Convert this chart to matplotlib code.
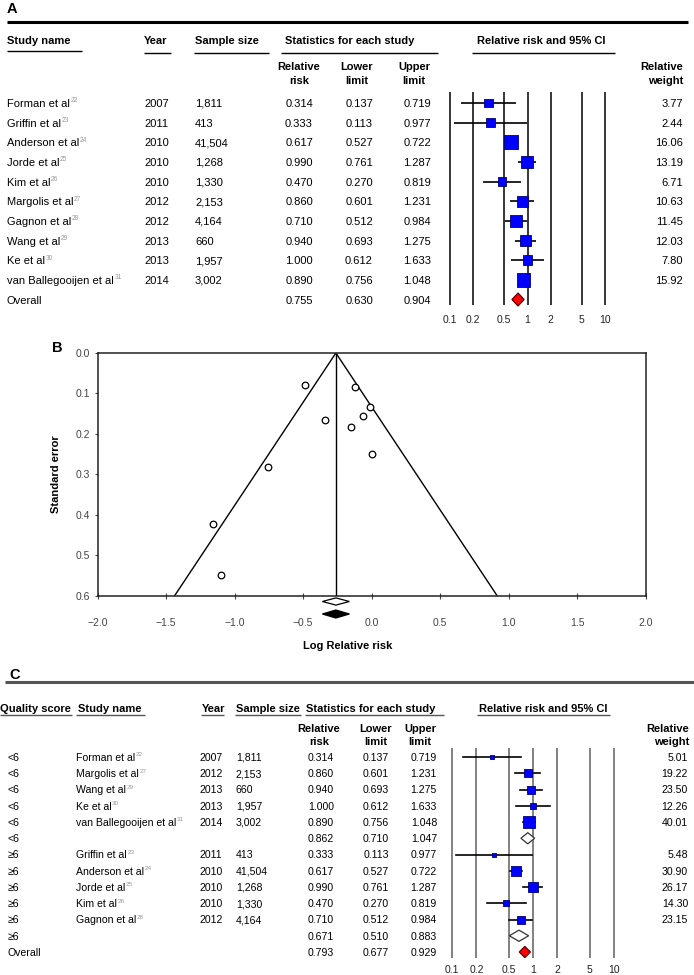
import matplotlib
matplotlib.use('Agg')
import matplotlib.pyplot as plt
from matplotlib.patches import Polygon
import numpy as np

plt.rcParams['font.family'] = ['Liberation Sans', 'DejaVu Sans']
plt.rcParams['mathtext.fontset'] = 'custom'
plt.rcParams['mathtext.rm'] = 'Liberation Sans'
plt.rcParams['mathtext.it'] = 'Liberation Sans:italic'
plt.rcParams['mathtext.bf'] = 'Liberation Sans:bold'
NARROW = ['Liberation Sans Narrow', 'Liberation Sans', 'DejaVu Sans']

# ---------------- data: panel A ----------------
studies_A = ['Forman et al', 'Griffin et al', 'Anderson et al', 'Jorde et al', 'Kim et al',
             'Margolis et al', 'Gagnon et al', 'Wang et al', 'Ke et al', 'van Ballegooijen et al']
refs_A = ['22', '23', '24', '25', '26', '27', '28', '29', '30', '31']
years_A = ['2007', '2011', '2010', '2010', '2010', '2012', '2012', '2013', '2013', '2014']
sizes_A = ['1,811', '413', '41,504', '1,268', '1,330', '2,153', '4,164', '660', '1,957', '3,002']
rr_A = [0.314, 0.333, 0.617, 0.990, 0.470, 0.860, 0.710, 0.940, 1.000, 0.890]
lo_A = [0.137, 0.113, 0.527, 0.761, 0.270, 0.601, 0.512, 0.693, 0.612, 0.756]
hi_A = [0.719, 0.977, 0.722, 1.287, 0.819, 1.231, 0.984, 1.275, 1.633, 1.048]
wt_A = [3.77, 2.44, 16.06, 13.19, 6.71, 10.63, 11.45, 12.03, 7.80, 15.92]
overall_A = [0.755, 0.630, 0.904]
forest_ticks = [0.1, 0.2, 0.5, 1, 2, 5, 10]
forest_ticklabels = ['0.1', '0.2', '0.5', '1', '2', '5', '10']

# ---------------- data: panel B ----------------
log_rr_B = [-1.158, -1.100, -0.483, -0.010, -0.755, -0.151, -0.342, -0.062, 0.000, -0.117]
se_B = [0.423, 0.550, 0.080, 0.134, 0.283, 0.183, 0.167, 0.156, 0.250, 0.083]
pooled_B = -0.26
egger_p = '0.53'
xticks_B = [-2.0, -1.5, -1.0, -0.5, 0.0, 0.5, 1.0, 1.5, 2.0]
yticks_B = [0.0, 0.1, 0.2, 0.3, 0.4, 0.5, 0.6]

# ---------------- data: panel C ----------------
quality_C = ['<6'] * 6 + ['\u22656'] * 6 + ['Overall']
studies_C = ['Forman et al', 'Margolis et al', 'Wang et al', 'Ke et al', 'van Ballegooijen et al', '',
             'Griffin et al', 'Anderson et al', 'Jorde et al', 'Kim et al', 'Gagnon et al', '', '']
refs_C = ['22', '27', '29', '30', '31', '', '23', '24', '25', '26', '28', '', '']
years_C = ['2007', '2012', '2013', '2013', '2014', '', '2011', '2010', '2010', '2010', '2012', '', '']
sizes_C = ['1,811', '2,153', '660', '1,957', '3,002', '', '413', '41,504', '1,268', '1,330', '4,164', '', '']
rr_C = [0.314, 0.860, 0.940, 1.000, 0.890, 0.862, 0.333, 0.617, 0.990, 0.470, 0.710, 0.671, 0.793]
lo_C = [0.137, 0.601, 0.693, 0.612, 0.756, 0.710, 0.113, 0.527, 0.761, 0.270, 0.512, 0.510, 0.677]
hi_C = [0.719, 1.231, 1.275, 1.633, 1.048, 1.047, 0.977, 0.722, 1.287, 0.819, 0.984, 0.883, 0.929]
wt_C = [5.01, 19.22, 23.50, 12.26, 40.01, None, 5.48, 30.90, 26.17, 14.30, 23.15, None, None]
kind_C = ['study'] * 5 + ['sub'] + ['study'] * 5 + ['sub', 'overall']

# ---------------- figure & helpers ----------------
W, H = 694, 975
fig = plt.figure(figsize=(W / 100, H / 100), dpi=100)
canvas = fig.add_axes([0, 0, 1, 1])
canvas.set_xlim(0, W)
canvas.set_ylim(H, 0)
canvas.axis('off')
renderer = fig.canvas.get_renderer()

BLUE = '#0000ff'
BLUE_EDGE = '#00007a'
RED = '#ff0000'
PX_PER_PT = 100 / 72.0


def px_axes(x0, y0, x1, y1):
    return fig.add_axes([x0 / W, 1 - y1 / H, (x1 - x0) / W, (y1 - y0) / H])


def txt(x, y, s, ha='left', fs=8, bold=False, color='black', **kw):
    # y is the visual centre of capitals; place baseline below it
    yb = y + 0.36 * fs * PX_PER_PT
    return canvas.text(x, yb, s, ha=ha, va='baseline', fontsize=fs,
                       fontweight='bold' if bold else 'normal', color=color, **kw)


def hline(x0, x1, y, lw=1.0, color='black'):
    canvas.plot([x0, x1], [y, y], color=color, lw=lw, solid_capstyle='butt')


def name_with_ref(x, y, name, ref, fs):
    t = txt(x, y, name, fs=fs)
    if ref:
        bb = t.get_window_extent(renderer)
        xe = canvas.transData.inverted().transform((bb.x1, bb.y0))[0]
        txt(xe + 0.6, y - 3, ref, fs=fs * 0.6, color='#9a9a9a')


def forest_axes(x01, x10, ytop, ybot):
    ppd = (x10 - x01) / 2.0
    pad = 10
    ax = px_axes(x01 - pad, ytop, x10 + pad, ybot)
    ax.set_xscale('log')
    ax.set_xlim(10 ** (-1 - pad / ppd), 10 ** (1 + pad / ppd))
    ax.set_ylim(ybot, ytop)
    ax.axis('off')
    return ax, ppd


def diamond(ax, est, lo, hi, y, h, fc, ec, lw=0.9):
    ax.add_patch(Polygon([(lo, y), (est, y - h), (hi, y), (est, y + h)], closed=True,
                         facecolor=fc, edgecolor=ec, lw=lw, zorder=4))


def forest_ticklabels_at(ax, y, fs=7.5):
    for t, l in zip(forest_ticks, forest_ticklabels):
        ax.text(t, y + 0.36 * fs * PX_PER_PT, l, ha='center', va='baseline', fontsize=fs,
                family=NARROW, color='#222222')


# ================= PANEL A =================
txt(7, 8, 'A', fs=10.5, bold=True)
hline(7, 688, 22, lw=2.2)

hy = 40
txt(7, hy, 'Study name', bold=True)
txt(144, hy, 'Year', bold=True)
txt(195, hy, 'Sample size', bold=True)
txt(285, hy, 'Statistics for each study', bold=True)
txt(477, hy, 'Relative risk and 95% CI', bold=True)
hline(7, 82, 51)
hline(144, 171, 53)
hline(194, 269, 53)
hline(281, 438, 53)
hline(472, 615, 53)

for lab, xc, ha in [(('Relative', 'risk'), 299, 'center'), (('Lower', 'limit'), 357, 'center'),
                    (('Upper', 'limit'), 414, 'center'), (('Relative', 'weight'), 683, 'right')]:
    txt(xc, 66, lab[0], ha=ha, bold=True)
    txt(xc, 80, lab[1], ha=ha, bold=True)

row0_A, dy_A = 103, 19.65
ys_A = [row0_A + i * dy_A for i in range(len(studies_A))]
y_over_A = row0_A + len(studies_A) * dy_A

for i, y in enumerate(ys_A):
    name_with_ref(7, y, studies_A[i], refs_A[i], 8)
    txt(144, y, years_A[i])
    txt(195, y, sizes_A[i])
    txt(313, y, '%.3f' % rr_A[i], ha='right')
    txt(373, y, '%.3f' % lo_A[i], ha='right')
    txt(431, y, '%.3f' % hi_A[i], ha='right')
    txt(683, y, '%.2f' % wt_A[i], ha='right')
txt(7, y_over_A, 'Overall')
txt(313, y_over_A, '%.3f' % overall_A[0], ha='right')
txt(373, y_over_A, '%.3f' % overall_A[1], ha='right')
txt(431, y_over_A, '%.3f' % overall_A[2], ha='right')

axA, ppdA = forest_axes(450, 605, 85, 330)
axA.vlines(forest_ticks, 92, 305, color='black', lw=1.1)
axA.hlines(ys_A, lo_A, hi_A, color='black', lw=1.2, zorder=2)
sideA = [max(8.8, 3.4 * np.sqrt(w)) for w in wt_A]
axA.scatter(rr_A, ys_A, marker='s', s=[(s * 0.72) ** 2 for s in sideA],
            facecolor=BLUE, edgecolor=BLUE_EDGE, lw=0.6, zorder=3)
diamond(axA, overall_A[0], overall_A[1], overall_A[2], y_over_A, 6.5, RED, '#5a0000')
forest_ticklabels_at(axA, 319)

# ================= PANEL B =================
txt(52, 347, 'B', fs=10.5, bold=True)
axB = px_axes(97.5, 353, 645.5, 595.5)
axB.set_xlim(-2, 2)
axB.set_ylim(0.6, 0)
for sp in axB.spines.values():
    sp.set_linewidth(1.1)
    sp.set_color('#222222')
axB.set_xticks(xticks_B)
axB.set_xticklabels([('%.1f' % v).replace('-', '\u2212') for v in xticks_B],
                    family=NARROW, fontsize=7.5, color='#444444')
axB.set_yticks(yticks_B)
axB.set_yticklabels(['%.1f' % v for v in yticks_B], family=NARROW, fontsize=7.5, color='#444444')
axB.tick_params(axis='x', direction='inout', length=4, width=0.8, pad=14.5, color='#444444')
axB.tick_params(axis='y', direction='out', length=2.5, width=0.8, pad=3, color='#444444')

se_max = 0.6
axB.plot([pooled_B - 1.96 * se_max, pooled_B, pooled_B + 1.96 * se_max], [se_max, 0, se_max],
         color='black', lw=1.0)
axB.plot([pooled_B, pooled_B], [0, se_max], color='black', lw=1.0)
axB.scatter(log_rr_B, se_B, s=(6.6 * 0.72) ** 2, facecolors='white', edgecolors='black',
            lw=0.9, zorder=3)
per_px = 0.6 / 242.5
hw = 13.5 / 137.0
for yc, hh, fc in [(601.5, 3.6, 'white'), (614.0, 4.0, 'black')]:
    yd = 0.6 + (yc - 595.5) * per_px
    p = Polygon([(pooled_B - hw, yd), (pooled_B, yd - hh * per_px), (pooled_B + hw, yd),
                 (pooled_B, yd + hh * per_px)], closed=True, facecolor=fc, edgecolor='black',
                lw=0.9, clip_on=False, zorder=5)
    axB.add_patch(p)

txt(484, 380, 'Eggers test $\\mathit{P}$-value =' + egger_p, fs=7.3, color='#222222')
canvas.text(56, 474, 'Standard error', fontsize=8, fontweight='bold', rotation=90,
            ha='center', va='center')
txt(347.5, 645, 'Log Relative risk', fs=8, bold=True, ha='center')

# ================= PANEL C =================
txt(9, 674, 'C', fs=10.5, bold=True)
hline(5, 694, 682, lw=2.2, color='#555555')

hyC = 708
GREY_UL = '#555555'
txt(0, hyC, 'Quality score', bold=True)
txt(78, hyC, 'Study name', bold=True)
txt(202, hyC, 'Year', bold=True)
txt(236, hyC, 'Sample size', bold=True)
txt(306, hyC, 'Statistics for each study', bold=True)
txt(479, hyC, 'Relative risk and 95% CI', bold=True)
hline(0, 72, 715, color=GREY_UL)
hline(76, 145, 715, color=GREY_UL)
hline(201, 224, 715, color=GREY_UL)
hline(235, 301, 715, color=GREY_UL)
hline(305, 444, 715, color=GREY_UL)
hline(477, 610, 715, color=GREY_UL)

for lab, xc, ha in [(('Relative', 'risk'), 319, 'center'), (('Lower', 'limit'), 376, 'center'),
                    (('Upper', 'limit'), 420, 'center'), (('Relative', 'weight'), 689, 'right')]:
    txt(xc, 728, lab[0], ha=ha, bold=True)
    txt(xc, 741, lab[1], ha=ha, bold=True)

row0_C, dy_C = 757, 16.25
ys_C = [row0_C + i * dy_C for i in range(len(rr_C))]
fsC = 7.6
for i, y in enumerate(ys_C):
    txt(8, y, quality_C[i], fs=fsC)
    if studies_C[i]:
        name_with_ref(76, y, studies_C[i], refs_C[i], fsC)
    txt(200, y, years_C[i], fs=fsC)
    txt(236, y, sizes_C[i], fs=fsC)
    txt(334, y, '%.3f' % rr_C[i], ha='right', fs=fsC)
    txt(389, y, '%.3f' % lo_C[i], ha='right', fs=fsC)
    txt(437, y, '%.3f' % hi_C[i], ha='right', fs=fsC)
    if wt_C[i] is not None:
        txt(688, y, '%.2f' % wt_C[i], ha='right', fs=fsC)

axC, ppdC = forest_axes(452, 614, 745, 975)
axC.vlines(forest_ticks, 748, 958, color='#777777', lw=1.3)
for i, y in enumerate(ys_C):
    if kind_C[i] == 'study':
        axC.plot([lo_C[i], hi_C[i]], [y, y], color='black', lw=1.2, zorder=2)
        side = 1.85 * np.sqrt(wt_C[i])
        axC.scatter([rr_C[i]], [y], marker='s', s=(side * 0.72) ** 2,
                    facecolor=BLUE, edgecolor=BLUE_EDGE, lw=0.6, zorder=3)
    elif kind_C[i] == 'sub':
        diamond(axC, rr_C[i], lo_C[i], hi_C[i], y, 5.6, 'white', '#333333')
    else:
        diamond(axC, rr_C[i], lo_C[i], hi_C[i], y, 5.6, RED, '#5a0000')
forest_ticklabels_at(axC, 969)

fig.savefig('out.png', dpi=100)
